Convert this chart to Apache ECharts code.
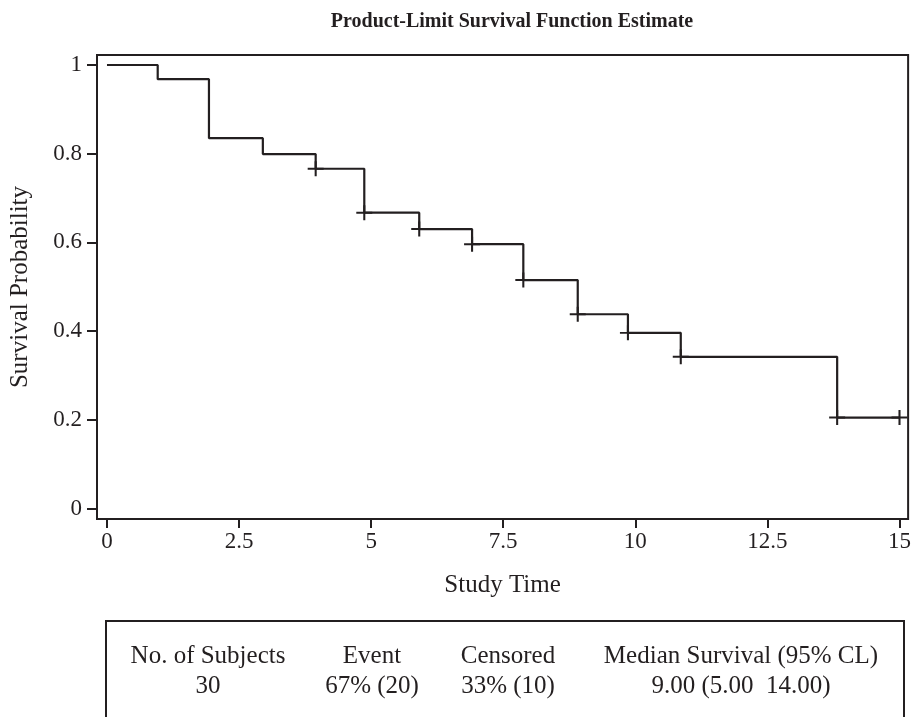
<!DOCTYPE html>
<html>
<head>
<meta charset="utf-8">
<script src="https://cdn.jsdelivr.net/npm/echarts@6/dist/echarts.min.js"></script>
<style>
html,body{margin:0;padding:0;background:#fff;}
#chart{width:914px;height:717px;}
</style>
</head>
<body>
<div id="chart"></div>
<script>
// Kaplan-Meier step curve (time, survival probability)
var stepTimes = [0, 0.96, 1.93, 2.95, 3.95, 4.87, 5.91, 6.91, 7.88, 8.91, 9.86, 10.86, 13.82, 15];
var survival  = [1, 0.968, 0.835, 0.799, 0.766, 0.667, 0.630, 0.596, 0.515, 0.438, 0.396, 0.342, 0.205, 0.205];
// Censored observations
var censorTimes = [3.95, 4.87, 5.91, 6.91, 7.88, 8.91, 9.86, 10.86, 13.82, 15];
var censorSurv  = [0.766, 0.667, 0.630, 0.596, 0.515, 0.438, 0.396, 0.342, 0.205, 0.205];
// Tick labels
var xTicks = [0, 2.5, 5, 7.5, 10, 12.5, 15];
var yTicks = [0, 0.2, 0.4, 0.6, 0.8, 1];
// Summary table
var tableHeaders = ['No. of Subjects', 'Event', 'Censored', 'Median Survival (95% CL)'];
var tableValues  = ['30', '67% (20)', '33% (10)', '9.00 (5.00  14.00)'];

var INK = '#231f20';
var FONT = '"Liberation Serif", "Times New Roman", serif';

var stepData = stepTimes.map(function (t, i) { return [t, survival[i]]; });
var censorData = censorTimes.map(function (t, i) { return [t, censorSurv[i]]; });

var colX = [208, 372, 508, 741];
var graphics = [{
  type: 'rect',
  shape: { x: 106, y: 621, width: 798, height: 130 },
  style: { fill: 'none', stroke: INK, lineWidth: 2 },
  silent: true
}];
tableHeaders.forEach(function (h, i) {
  graphics.push({
    type: 'text', x: colX[i], y: 656,
    style: { text: h, font: '25px ' + FONT, fill: INK, textAlign: 'center', textVerticalAlign: 'middle' }
  });
  graphics.push({
    type: 'text', x: colX[i], y: 686,
    style: { text: tableValues[i], font: '25px ' + FONT, fill: INK, textAlign: 'center', textVerticalAlign: 'middle' }
  });
});

var chart = echarts.init(document.getElementById('chart'), null, { renderer: 'canvas' });
chart.setOption({
  animation: false,
  backgroundColor: '#fff',
  title: {
    text: 'Product-Limit Survival Function Estimate',
    left: 507,
    textAlign: 'center',
    top: 7,
    textStyle: { fontFamily: FONT, fontSize: 20, fontWeight: 'bold', color: INK }
  },
  grid: {
    left: 96.7, right: 5.5, top: 55, bottom: 198,
    show: true, borderColor: INK, borderWidth: 2, backgroundColor: 'transparent'
  },
  xAxis: {
    type: 'value',
    position: 'bottom',
    min: -0.189, max: 15.163,
    name: 'Study Time',
    nameLocation: 'middle',
    nameGap: 54,
    nameTextStyle: { fontFamily: FONT, fontSize: 25, color: INK },
    axisLine: { show: true, onZero: false, lineStyle: { color: INK, width: 2 } },
    axisTick: { show: true, inside: false, length: 9, lineStyle: { color: INK, width: 2 }, customValues: xTicks },
    axisLabel: { inside: false, fontFamily: FONT, fontSize: 23, color: INK, margin: 11, customValues: xTicks },
    splitLine: { show: false }
  },
  yAxis: {
    type: 'value',
    position: 'left',
    min: -0.0237, max: 1.0225,
    name: 'Survival Probability',
    nameLocation: 'middle',
    nameRotate: 90,
    nameGap: 64,
    nameTextStyle: { fontFamily: FONT, fontSize: 25, color: INK },
    axisLine: { show: true, onZero: false, lineStyle: { color: INK, width: 2 } },
    axisTick: { show: true, inside: false, length: 10, lineStyle: { color: INK, width: 2 }, customValues: yTicks },
    axisLabel: { inside: false, fontFamily: FONT, fontSize: 23, color: INK, margin: 15, customValues: yTicks },
    splitLine: { show: false }
  },
  series: [{
    type: 'line',
    step: 'end',
    data: stepData,
    showSymbol: false,
    lineStyle: { color: INK, width: 2.2 },
    silent: true
  }, {
    type: 'scatter',
    data: censorData,
    symbol: 'path://M5,0L5,10M0,5L10,5',
    symbolSize: [16, 15],
    itemStyle: { color: 'none', borderColor: INK, borderWidth: 2, opacity: 1 },
    silent: true
  }],
  graphic: graphics
});
</script>
</body>
</html>
